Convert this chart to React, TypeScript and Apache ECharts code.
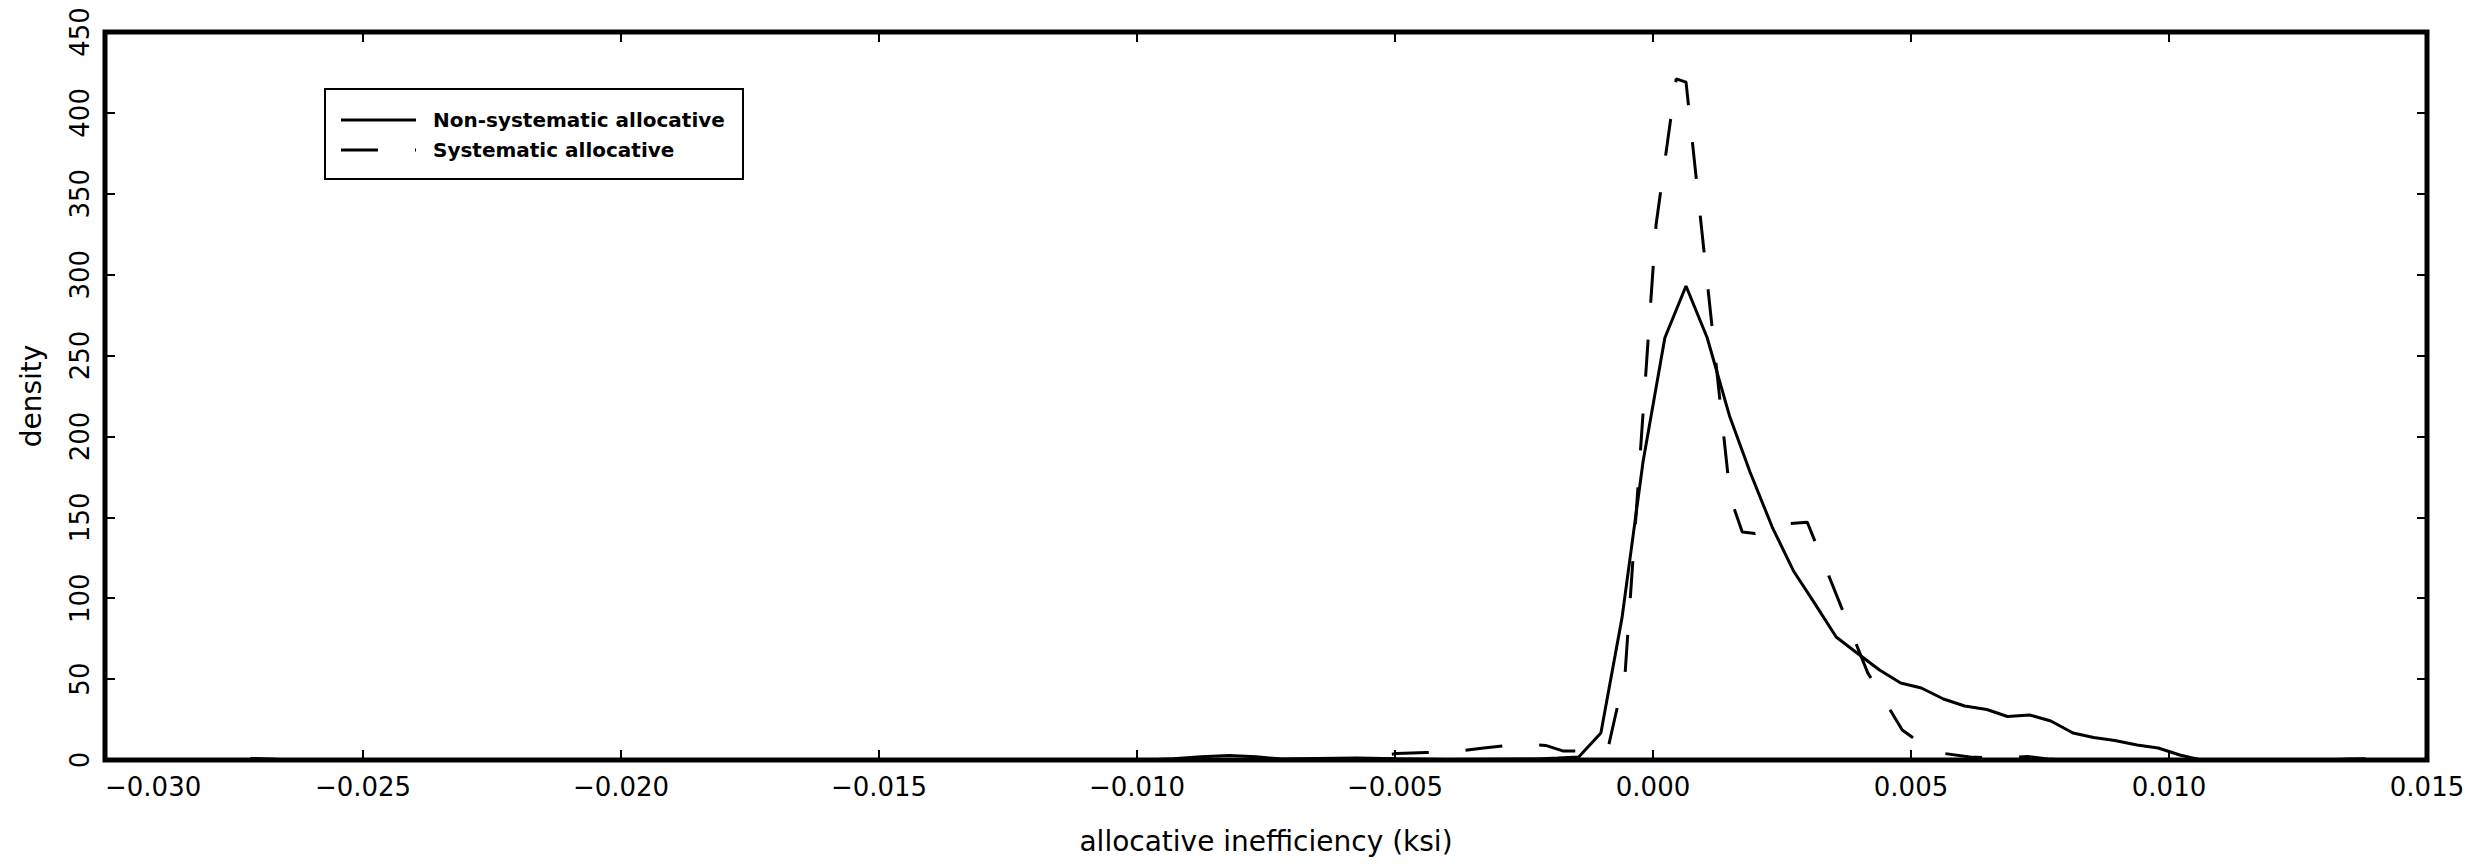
import React, { useEffect, useRef } from "react";
import * as echarts from "echarts";

// Non-systematic allocative (solid line)
const nsX = [-0.02718, -0.0268, -0.02643, -0.00982, -0.0093, -0.00876, -0.00821, -0.00769, -0.0072, -0.00652, -0.00575, -0.00497, -0.004, -0.00225, -0.00184, -0.00144, -0.00101, -0.0006, -0.00019, 0.00023, 0.00064, 0.00105, 0.00148, 0.00188, 0.00231, 0.00272, 0.00313, 0.00355, 0.00396, 0.00439, 0.0048, 0.0052, 0.00563, 0.00604, 0.00647, 0.00687, 0.0073, 0.00771, 0.00814, 0.00854, 0.00895, 0.00938, 0.00979, 0.01021, 0.01062, 0.01309, 0.01348, 0.01381];
const nsY = [1.0, 0.6, 0, 0, 0.8, 2.0, 2.8, 2.0, 0.6, 1.0, 1.3, 0.8, 0.3, 0.6, 1.2, 1.9, 16.7, 88, 185, 261, 293, 261, 213, 178, 144, 117, 97, 76, 66, 55.6, 47.6, 44.5, 37.7, 33.4, 31.2, 26.9, 27.8, 24.1, 16.7, 13.9, 12.1, 9.3, 7.4, 3.1, 0, 0, 0.6, 0.8];

// Systematic allocative (dashed line)
const sX = [-0.028, -0.0062, -0.00575, -0.00497, -0.00439, -0.004, -0.00365, -0.00328, -0.0026, -0.00208, -0.00175, -0.00134, -0.00115, -0.00087, -0.00054, 0.00006, 0.00045, 0.00064, 0.00109, 0.0015, 0.00173, 0.00198, 0.00221, 0.0026, 0.00299, 0.00416, 0.00483, 0.00542, 0.00614, 0.00668, 0.00726, 0.00765, 0.00804, 0.014];
const sY = [0, 0, 0.5, 4.0, 4.7, 4.3, 6.0, 7.4, 9.9, 9.0, 5.6, 5.6, 7.0, 7.5, 54, 331, 421, 419, 284, 162, 141, 140, 143, 146, 147, 54, 18.5, 5, 1.9, 1.2, 2.2, 0.6, 0, 0];

const seriesNames = ["Non-systematic allocative", "Systematic allocative"];
const xTitle = "allocative inefficiency (ksi)";
const yTitle = "density";

const X_MIN = -0.03;
const X_MAX = 0.015;
const X_STEP = 0.005;
const Y_MIN = 0;
const Y_MAX = 450;
const Y_STEP = 50;

const FONT = "DejaVu Sans";
const DASH = [37, 37];

function fmtX(v: number): string {
  const s = Math.abs(v).toFixed(3);
  return (v < -1e-12 ? "\u2212" : "") + s;
}

export default function App() {
  const ref = useRef<HTMLDivElement | null>(null);

  useEffect(() => {
    if (!ref.current) return;
    const chart = echarts.init(ref.current, undefined, { renderer: "svg" });

    const tick = {
      show: true,
      inside: true,
      length: 10,
      lineStyle: { color: "#000", width: 2 },
    };
    const hiddenLine = { show: false, onZero: false };

    const legendTextStyle = {
      fill: "#000",
      font: `bold 20px "${FONT}"`,
      verticalAlign: "middle",
      align: "left",
    };

    const option: any = {
      animation: false,
      backgroundColor: "#ffffff",
      textStyle: { fontFamily: FONT, color: "#000" },
      grid: {
        left: 105,
        right: 54,
        top: 32,
        bottom: 104,
        show: true,
        borderColor: "#000",
        borderWidth: 5,
        backgroundColor: "transparent",
      },
      graphic: [
        {
          type: "group",
          left: 324,
          top: 88,
          z: 100,
          children: [
            {
              type: "rect",
              shape: { x: 0, y: 0, width: 418, height: 90 },
              style: { fill: "#fff", stroke: "#000", lineWidth: 2 },
            },
            {
              type: "line",
              shape: { x1: 16, y1: 31, x2: 91, y2: 31 },
              style: { stroke: "#000", lineWidth: 3 },
            },
            {
              type: "line",
              shape: { x1: 16, y1: 61, x2: 91, y2: 61 },
              style: { stroke: "#000", lineWidth: 3, lineDash: DASH },
            },
            {
              type: "text",
              x: 108,
              y: 31,
              style: { ...legendTextStyle, text: seriesNames[0] },
            },
            {
              type: "text",
              x: 108,
              y: 61,
              style: { ...legendTextStyle, text: seriesNames[1] },
            },
          ],
        },
      ],
      xAxis: [
        {
          type: "value",
          position: "bottom",
          min: X_MIN,
          max: X_MAX,
          interval: X_STEP,
          axisLine: hiddenLine,
          axisTick: tick,
          splitLine: { show: false },
          axisLabel: {
            show: true,
            color: "#000",
            fontFamily: FONT,
            fontSize: 26,
            margin: 14,
            formatter: fmtX,
            alignMinLabel: "left",
          },
          name: xTitle,
          nameLocation: "middle",
          nameGap: 67,
          nameTextStyle: { fontFamily: FONT, fontSize: 28, color: "#000" },
        },
        {
          type: "value",
          position: "top",
          min: X_MIN,
          max: X_MAX,
          interval: X_STEP,
          axisLine: hiddenLine,
          axisTick: tick,
          splitLine: { show: false },
          axisLabel: { show: false },
        },
      ],
      yAxis: [
        {
          type: "value",
          position: "left",
          min: Y_MIN,
          max: Y_MAX,
          interval: Y_STEP,
          axisLine: hiddenLine,
          axisTick: tick,
          splitLine: { show: false },
          axisLabel: {
            show: true,
            rotate: 90,
            color: "#000",
            fontFamily: FONT,
            fontSize: 26,
            margin: 12,
          },
          name: yTitle,
          nameLocation: "middle",
          nameGap: 60,
          nameTextStyle: { fontFamily: FONT, fontSize: 28, color: "#000" },
        },
        {
          type: "value",
          position: "right",
          min: Y_MIN,
          max: Y_MAX,
          interval: Y_STEP,
          axisLine: hiddenLine,
          axisTick: tick,
          splitLine: { show: false },
          axisLabel: { show: false },
        },
      ],
      series: [
        {
          name: seriesNames[0],
          type: "line",
          xAxisIndex: 0,
          yAxisIndex: 0,
          data: nsX.map((x, i) => [x, nsY[i]]),
          showSymbol: false,
          symbol: "none",
          smooth: false,
          color: "#000",
          lineStyle: { color: "#000", width: 3, type: "solid" },
        },
        {
          name: seriesNames[1],
          type: "line",
          xAxisIndex: 0,
          yAxisIndex: 0,
          data: sX.map((x, i) => [x, sY[i]]),
          showSymbol: false,
          symbol: "none",
          smooth: false,
          color: "#000",
          lineStyle: { color: "#000", width: 3, type: DASH },
        },
      ],
    };

    chart.setOption(option);
    return () => {
      chart.dispose();
    };
  }, []);

  return (
    <div
      ref={ref}
      style={{
        position: "fixed",
        left: 0,
        top: 0,
        width: 2481,
        height: 864,
        background: "#fff",
      }}
    />
  );
}
